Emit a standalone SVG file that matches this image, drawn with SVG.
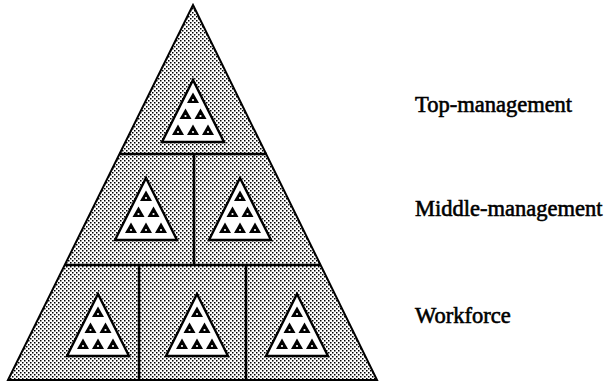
<svg xmlns="http://www.w3.org/2000/svg" width="609" height="382" viewBox="0 0 609 382">
<style>
.sec{fill:url(#dots);stroke:#000;stroke-width:2;stroke-linejoin:miter}
.div{stroke:#000;stroke-width:2.5;fill:none}
.lbl{font-family:"Liberation Serif","Times New Roman",serif;font-size:22.5px;fill:#000;stroke:#000;stroke-width:0.6}
.team{fill:#fff;stroke:#000;stroke-width:2.4;stroke-linejoin:miter}
</style>
<defs>
<pattern id="dots" patternUnits="userSpaceOnUse" width="4" height="4">
<rect width="4" height="4" fill="#fff"/>
<rect x="0" y="0" width="1.5" height="1.5" fill="#000"/>
<rect x="2" y="2" width="1.5" height="1.5" fill="#000"/>
</pattern>
<g id="glyph">
<path d="M0,-5.5 L6,5 L-6,5 Z" fill="#000"/>
<circle cx="0" cy="2" r="1.1" fill="#fff"/>
</g>
<g id="teamIcon">
<path class="team" d="M0,0 L31,62 L-31,62 Z"/>
<use href="#glyph" x="0" y="18"/>
<use href="#glyph" x="-7.5" y="34"/>
<use href="#glyph" x="7.5" y="34"/>
<use href="#glyph" x="-15" y="50"/>
<use href="#glyph" x="0" y="50"/>
<use href="#glyph" x="15" y="50"/>
</g>
</defs>
<rect width="609" height="382" fill="#fff"/>
<g id="pyramid">
<path class="sec" d="M193,5 L377,380 L8,380 Z"/>
</g>
<g id="connectors">
<line class="div" x1="119" y1="154" x2="267" y2="154"/>
<line class="div" x1="65" y1="265" x2="321" y2="265"/>
<line class="div" x1="194" y1="154" x2="194" y2="265"/>
<line class="div" x1="139" y1="265" x2="139" y2="380"/>
<line class="div" x1="246" y1="265" x2="246" y2="380"/>
</g>
<g id="top-team"><use href="#teamIcon" x="193" y="80"/></g>
<g id="middle-team-1"><use href="#teamIcon" x="146" y="178"/></g>
<g id="middle-team-2"><use href="#teamIcon" x="240" y="178"/></g>
<g id="work-team-1"><use href="#teamIcon" x="98" y="294"/></g>
<g id="work-team-2"><use href="#teamIcon" x="197" y="294"/></g>
<g id="work-team-3"><use href="#teamIcon" x="297" y="294"/></g>
<g id="labels">
<text class="lbl" x="415" y="112">Top-management</text>
<text class="lbl" x="415" y="216">Middle-management</text>
<text class="lbl" x="415" y="323">Workforce</text>
</g>
</svg>
